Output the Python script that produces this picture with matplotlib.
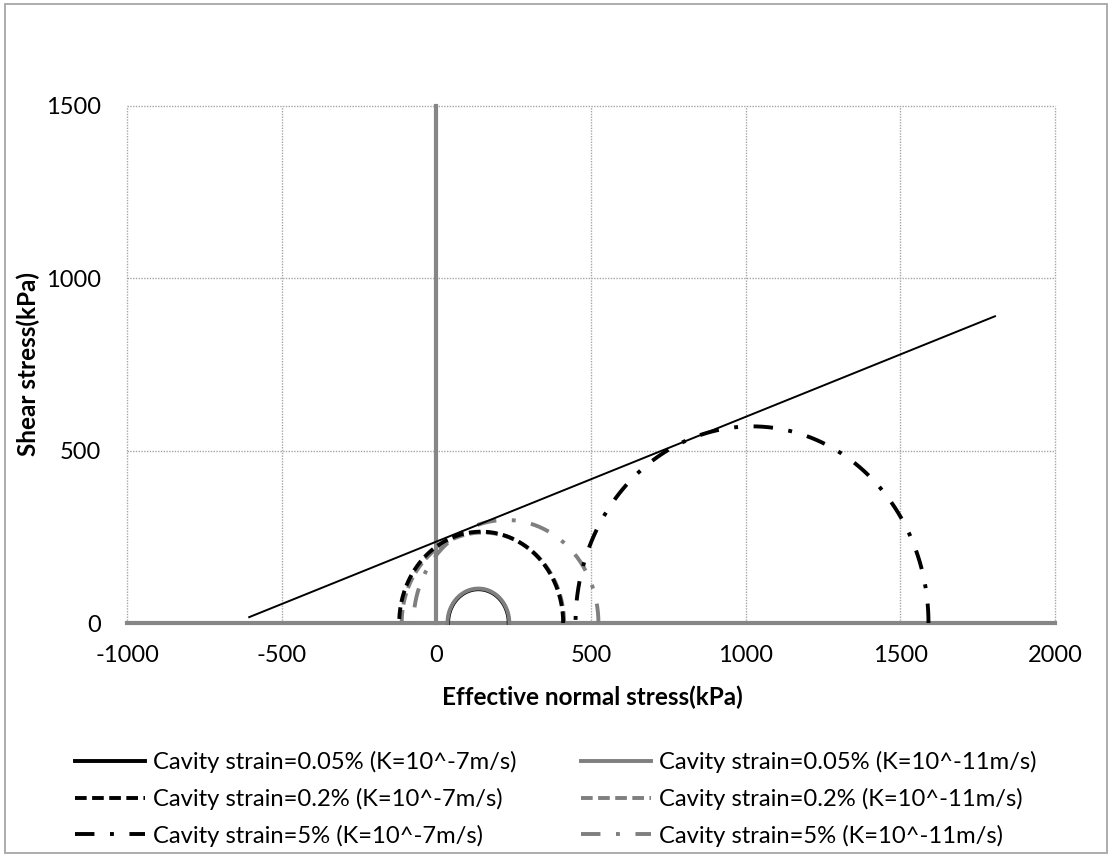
import numpy as np
import matplotlib
matplotlib.use("Agg")
import matplotlib.pyplot as plt
from matplotlib.lines import Line2D
from matplotlib.patches import Rectangle

plt.rcParams['font.family'] = ['Lato', 'DejaVu Sans']
plt.rcParams['axes.unicode_minus'] = False

# ---- data ----
series_labels = [
    "Cavity strain=0.05% (K=10^-7m/s)",
    "Cavity strain=0.2% (K=10^-7m/s)",
    "Cavity strain=5% (K=10^-7m/s)",
    "Cavity strain=0.05% (K=10^-11m/s)",
    "Cavity strain=0.2% (K=10^-11m/s)",
    "Cavity strain=5% (K=10^-11m/s)",
]
# minor / major principal effective stresses (kPa) of each Mohr circle
sigma3 = [38, -120, 450, 36, -112, -74]
sigma1 = [234, 410, 1591, 236, 413, 524]

# failure envelope end points
env_x = [-605, 1806]
env_y = [17, 890]

x_ticks = [-1000, -500, 0, 500, 1000, 1500, 2000]
y_ticks = [0, 500, 1000, 1500]

# ---- style ----
GREY = '#7f7f7f'
AXGREY = '#868686'
colors = ['black', 'black', 'black', GREY, GREY, GREY]
DASH = (0, (3.0, 1.4))
DASHDOT = (0, (5, 4, 1, 4))
styles = ['-', DASH, DASHDOT, '-', DASH, DASHDOT]
zorders = [2.5, 4, 4, 3, 3, 3]
LW = 2.8
FS_TICK = 17
FS_LEG = 17.1
FS_LAB = 17.5

W, H = 1112, 858
fig = plt.figure(figsize=(W / 100, H / 100), dpi=100)
ax = fig.add_axes([127 / W, 1 - 623 / H, (1055 - 127) / W, (623 - 106) / H])
ax.set_xlim(-1000, 2000)
ax.set_ylim(0, 1500)
ax.set_xticks(x_ticks)
ax.set_yticks(y_ticks)
for s in ax.spines.values():
    s.set_visible(False)
ax.tick_params(length=0, labelsize=FS_TICK)
ax.tick_params(axis='y', pad=19)
ax.tick_params(axis='x', pad=16)

# grid lines
for xv in x_ticks:
    if xv != 0:
        ax.axvline(xv, color='#a6a6a6', lw=1, ls=(0, (1, 1)), zorder=1, clip_on=False)
for yv in y_ticks[1:]:
    ax.axhline(yv, color='#a6a6a6', lw=1, ls=(0, (1, 1)), zorder=1, clip_on=False)

# axis lines
ax.axhline(0, color=AXGREY, lw=3, zorder=2, clip_on=False)
ax.plot([0, 0], [0, 1500], color=AXGREY, lw=3, zorder=2, clip_on=False)

theta = np.linspace(0, np.pi, 300)
for s3, s1, c, ls, z in zip(sigma3, sigma1, colors, styles, zorders):
    cen = (s1 + s3) / 2
    r = (s1 - s3) / 2
    ax.plot(cen + r * np.cos(theta), r * np.sin(theta), color=c, ls=ls, lw=LW,
            zorder=z, clip_on=False)

ax.plot(env_x, env_y, color='black', lw=1.4, zorder=5)

fig.text(592 / W, 1 - 697 / H, "Effective normal stress(kPa)", ha='center', va='center',
         fontsize=FS_LAB, fontweight='bold')
fig.text(28 / W, 1 - 364 / H, "Shear stress(kPa)", ha='center', va='center',
         rotation=90, fontsize=FS_LAB, fontweight='bold')

handles = [Line2D([], [], color=c, ls=ls, lw=LW) for c, ls in zip(colors, styles)]
fig.legend(handles, series_labels, ncol=2, loc='upper left',
           bbox_to_anchor=(75 / W, 1 - 751 / H), frameon=False,
           fontsize=FS_LEG, handlelength=2.95, handletextpad=0.34,
           columnspacing=2.7, labelspacing=0.62, borderpad=0, borderaxespad=0)

fig.patches.append(Rectangle((5 / W, 1 - 853 / H), (1107 - 5) / W, (853 - 4) / H,
                             transform=fig.transFigure, fill=False,
                             edgecolor='#a6a6a6', lw=1.3))

fig.savefig("out.png", dpi=100)
